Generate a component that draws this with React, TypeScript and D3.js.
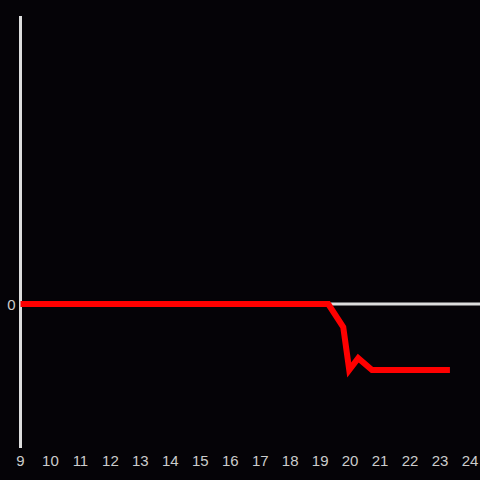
import React from "react";
import * as d3 from "d3";

const xValues = [9, 10, 11, 12, 13, 14, 15, 16, 17, 18, 19, 19.27, 19.77, 19.97, 20.27, 20.73, 21, 22, 23, 23.33];
const yValues = [0, 0, 0, 0, 0, 0, 0, 0, 0, 0, 0, 0, -0.35, -1, -0.82, -1, -1, -1, -1, -1];
const xTicks = [9, 10, 11, 12, 13, 14, 15, 16, 17, 18, 19, 20, 21, 22, 23, 24];
const yTicks = [0];

export default function App() {
  const W = 480, H = 480;
  const x = d3.scaleLinear().domain([9, 24]).range([20.5, 470]);
  const y = d3.scaleLinear().domain([-2.182, 4.364]).range([448, 16]);
  const data = xValues.map((v, i) => [v, yValues[i]] as [number, number]);
  const line = d3.line<[number, number]>().x(d => x(d[0])).y(d => y(d[1]));
  const font = "Liberation Sans, Arial, sans-serif";
  return (
    <div style={{ position: "fixed", left: 0, top: 0, width: W, height: H }}>
      <svg width={W} height={H} style={{ display: "block", background: "#050307" }}>
        <rect x={0} y={0} width={W} height={H} fill="#050307" />
        <line x1={20} x2={480} y1={y(0)} y2={y(0)} stroke="#dddddd" strokeWidth={3} />
        <line x1={20.5} x2={20.5} y1={16} y2={448} stroke="#dddddd" strokeWidth={3} />
        {yTicks.map(t => (
          <text key={t} x={15.5} y={y(t) + 5.5} textAnchor="end" fill="#cccccc"
            fontFamily={font} fontSize={15}>{t}</text>
        ))}
        {xTicks.map(t => (
          <text key={t} x={x(t)} y={466} textAnchor="middle" fill="#cccccc"
            fontFamily={font} fontSize={15}>{t}</text>
        ))}
        <path d={line(data) || ""} fill="none" stroke="#ff0000" strokeWidth={6} strokeLinejoin="miter" />
      </svg>
    </div>
  );
}
